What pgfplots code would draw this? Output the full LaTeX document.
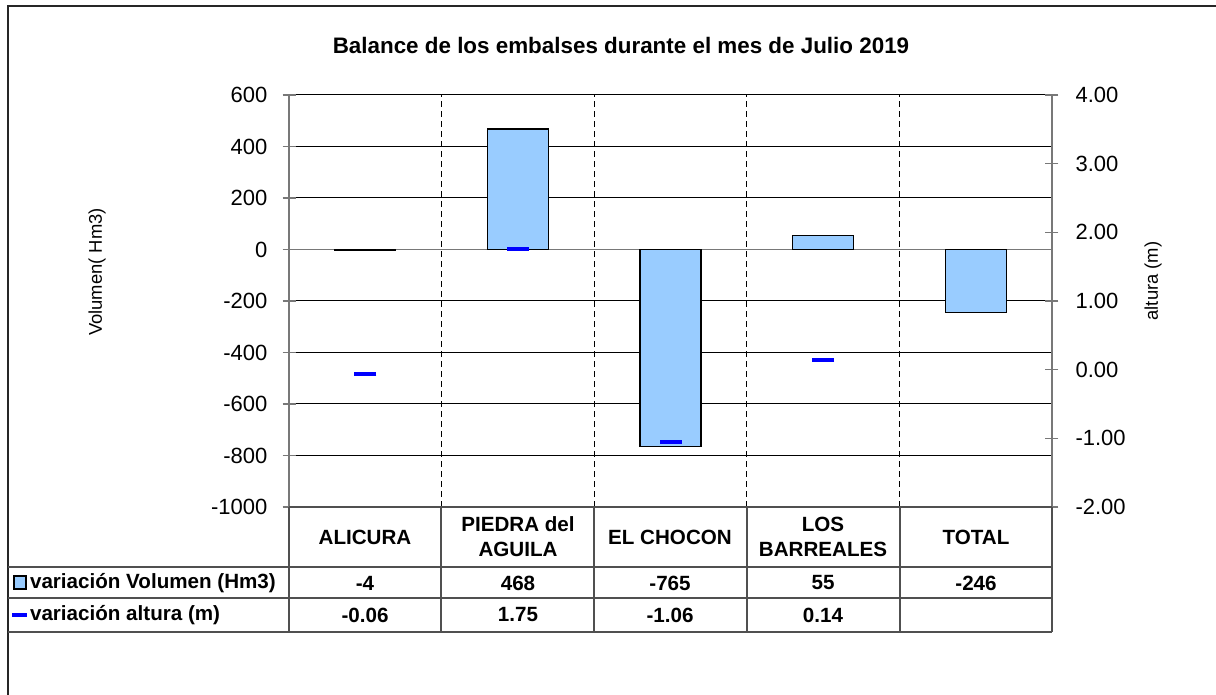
\documentclass[border=0pt]{standalone}
\usepackage{pgfplots}
\pgfplotsset{compat=1.18}
\usepackage{fontspec}
\setmainfont{Liberation Sans}
\definecolor{barblue}{RGB}{153,204,255}
\definecolor{axgray}{RGB}{120,120,120}
\definecolor{tabline}{RGB}{80,80,80}
\begin{document}
\begin{tikzpicture}[font=\fontsize{9}{10.5}\selectfont]
\path[use as bounding box] (0,0) rectangle (608pt,-347.5pt);
% left axis: volume
\begin{axis}[
  at={(144.5pt,-47.5pt)}, anchor=north west,
  scale only axis, width=381.5pt, height=206pt,
  xmin=-0.5, xmax=4.5, ymin=-1000, ymax=600,
  ytick={-1000,-800,...,600},
  axis x line=none, axis y line*=left,
  axis line style={axgray, line width=0.8pt, -},
  ymajorgrids, y grid style={black, line width=0.5pt},
  tick align=center, major tick length=6.5pt,
  y tick style={axgray, line width=0.6pt},
  yticklabel style={font=\fontsize{11}{13}\selectfont, black, xshift=-4pt},
  /pgf/number format/assume math mode=true,
  /pgf/number format/1000 sep={},
  clip=false,
]
\draw[axgray, line width=0.9pt] (axis cs:-0.5,0) -- (axis cs:4.5,0);
\foreach \xx in {0.5,1.5,2.5,3.5}{
  \edef\tmp{\noexpand\draw[black, line width=0.5pt, dash pattern=on 3pt off 2pt] (axis cs:\xx,-1000) -- (axis cs:\xx,600);}\tmp
}
\addplot[ybar, bar width=30.5pt, fill=barblue, draw=black, line width=0.6pt]
  coordinates {(0,-4) (1,468) (2,-765) (3,55) (4,-246)};
\end{axis}
% right axis: height
\begin{axis}[
  at={(144.5pt,-47.5pt)}, anchor=north west,
  scale only axis, width=381.5pt, height=206pt,
  xmin=-0.5, xmax=4.5, ymin=-2, ymax=4,
  ytick={-2,-1,...,4},
  axis x line=none, axis y line*=right,
  axis line style={axgray, line width=0.8pt, -},
  tick align=center, major tick length=6.5pt,
  y tick style={axgray, line width=0.6pt},
  yticklabel style={font=\fontsize{11}{13}\selectfont, black, xshift=5pt},
  /pgf/number format/assume math mode=true,
  yticklabel={\pgfmathprintnumber[fixed,fixed zerofill,precision=2]{\tick}},
  clip=false,
]
\addplot[only marks, mark=-, mark size=5.5pt, mark options={line width=2pt, draw=blue}]
  coordinates {(0,-0.06) (1,1.75) (2,-1.06) (3,0.14)};
\end{axis}
\begin{scope}[x=0.5pt, y=-0.5pt]
% outer frame
\draw[black!85, line width=0.8pt] (8,700) -- (8,6) -- (1220,6);
% title
\node[font=\fontsize{11.2}{13}\selectfont\bfseries] at (621,45) {Balance de los embalses durante el mes de Julio 2019};
% axis labels
\node[rotate=90, font=\fontsize{9.2}{11}\selectfont] at (97,272) {Volumen( Hm3)};
\node[rotate=90, font=\fontsize{9.2}{11}\selectfont] at (1153,281) {altura (m)};
% data table
\draw[tabline, line width=0.8pt] (289,507) -- (1052,507);
\draw[tabline, line width=0.8pt] (8,567) -- (1052,567);
\draw[tabline, line width=0.8pt] (8,598) -- (1052,598);
\draw[tabline, line width=0.8pt] (8,632) -- (1052,632);
\foreach \xx in {289,441,594,747,900,1052}{\draw[tabline, line width=0.8pt] (\xx,507) -- (\xx,632);}
\begin{scope}[every node/.style={font=\fontsize{10.3}{12.5}\selectfont\bfseries, align=center}]
\node at (365,537) {ALICURA};
\node at (518,537) {PIEDRA del\\AGUILA};
\node at (670,537) {EL CHOCON};
\node at (823,537) {LOS\\BARREALES};
\node at (976,537) {TOTAL};
\node at (365,583) {-4};
\node at (518,583) {468};
\node at (670,583) {-765};
\node at (823,583) {55};
\node at (976,583) {-246};
\node at (365,615) {-0.06};
\node at (518,615) {1.75};
\node at (670,615) {-1.06};
\node at (823,615) {0.14};
\node[anchor=west] at (23,583) {variación Volumen (Hm3)};
\node[anchor=west] at (23,615) {variación altura (m)};
\end{scope}
\draw[black, line width=0.6pt, fill=barblue] (14,576) rectangle (26,589);
\draw[blue, line width=2pt] (12,615) -- (27,615);
\end{scope}
\end{tikzpicture}
\end{document}
